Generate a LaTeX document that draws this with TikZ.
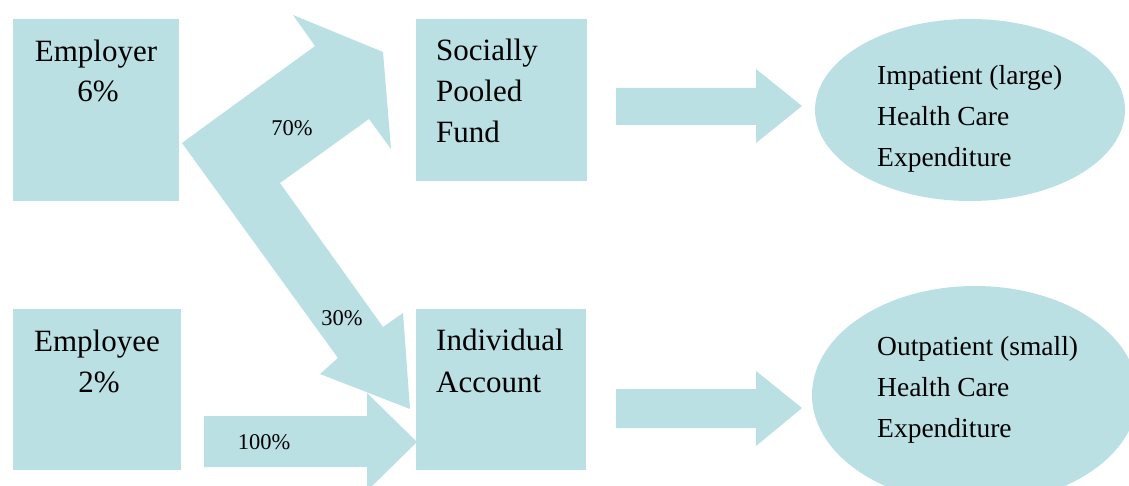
\documentclass[tikz,border=0pt]{standalone}
\usepackage{fontspec}
\setmainfont{Liberation Serif}
\usetikzlibrary{shapes.geometric}
\definecolor{fillblue}{HTML}{BBE0E3}
\begin{document}
\begin{tikzpicture}[x=1pt,y=-1pt,
  box/.style={rectangle, fill=fillblue, draw=none, inner sep=0pt, outer sep=0pt},
  oval/.style={ellipse, fill=fillblue, draw=none, inner sep=0pt, outer sep=0pt},
  blockarrow/.style={fill=fillblue, draw=none},
  big/.style={font=\fontsize{31}{40}\selectfont, inner sep=0pt},
  mid/.style={font=\fontsize{27.5}{41}\selectfont, inner sep=0pt},
  pct/.style={font=\fontsize{22.5}{27}\selectfont, inner sep=0pt}]
\useasboundingbox (0,0) rectangle (1129,486);
\clip (0,0) rectangle (1129,486);

% boxes
\node[box, minimum width=166pt, minimum height=182pt] (employer) at (96,110) {};
\node[box, minimum width=168pt, minimum height=161pt] (employee) at (97,389.5) {};
\node[box, minimum width=171pt, minimum height=162pt] (pooled) at (501.5,100) {};
\node[box, minimum width=170pt, minimum height=161pt] (account) at (501,389.5) {};

% ellipses
\node[oval, minimum width=310pt, minimum height=182pt] (inpat) at (970,110) {};
\node[oval, minimum width=326pt, minimum height=218pt] (outpat) at (975,395) {};

% bent split arrow (70% / 30%)
\fill[blockarrow] (182,143) -- (315,46) -- (293,15) -- (383,52) -- (391,149)
  -- (369,119) -- (280,183) -- (383,327) -- (403,313) -- (410,409)
  -- (320,374) -- (338,358) -- cycle;

% 100% arrow
\fill[blockarrow] (204,416) -- (367,416) -- (367,393) -- (417,442) -- (367,491)
  -- (367,467) -- (204,467) -- cycle;

% right arrows
\fill[blockarrow] (616,88) -- (756,88) -- (756,69) -- (802,106) -- (756,143)
  -- (756,125) -- (616,125) -- cycle;
\fill[blockarrow] (616,389) -- (756,389) -- (756,371) -- (802,408) -- (756,446)
  -- (756,428) -- (616,428) -- cycle;

% box texts
\node[big, anchor=base] (t1a) at (96,62) {Employer};
\node[big, anchor=base] (t1b) at (98,102) {6\%};
\node[big, anchor=base] (t2a) at (97,351) {Employee};
\node[big, anchor=base] (t2b) at (99,392) {2\%};
\node[big, anchor=base west] (t3a) at (436,61) {Socially};
\node[big, anchor=base west] (t3b) at (436,102) {Pooled};
\node[big, anchor=base west] (t3c) at (436,143) {Fund};
\node[big, anchor=base west] (t4a) at (436,350) {Individual};
\node[big, anchor=base west] (t4b) at (436,392) {Account};

% ellipse texts
\node[mid, anchor=base west] (e1a) at (877,85) {Impatient (large)};
\node[mid, anchor=base west] (e1b) at (877,126) {Health Care};
\node[mid, anchor=base west] (e1c) at (877,167) {Expenditure};
\node[mid, anchor=base west] (e2a) at (877,355) {Outpatient (small)};
\node[mid, anchor=base west] (e2b) at (877,396) {Health Care};
\node[mid, anchor=base west] (e2c) at (877,437) {Expenditure};

% percentage labels
\node[pct] (p70) at (292,128) {70\%};
\node[pct] (p30) at (342,318) {30\%};
\node[pct] (p100) at (264,442) {100\%};
\end{tikzpicture}
\end{document}
